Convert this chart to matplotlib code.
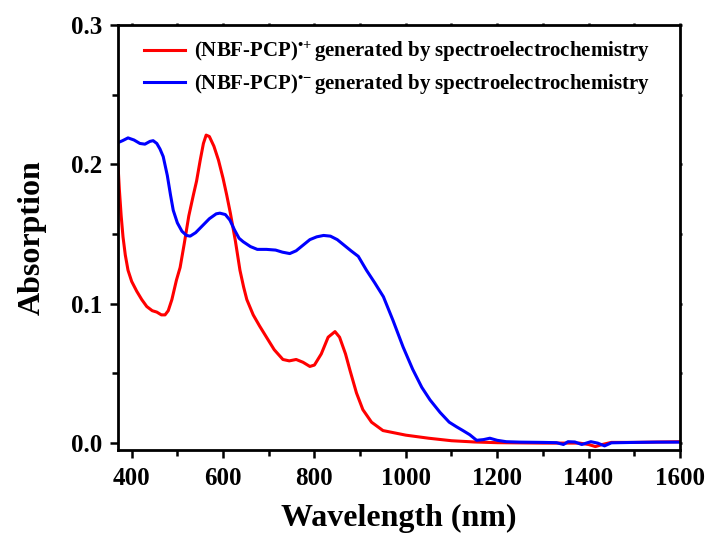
import matplotlib
matplotlib.use("Agg")
import matplotlib.pyplot as plt
from matplotlib.ticker import MultipleLocator

plt.rcParams['font.family'] = ['Liberation Serif', 'DejaVu Serif']
plt.rcParams['font.weight'] = 'bold'
plt.rcParams['mathtext.fontset'] = 'custom'
plt.rcParams['mathtext.rm'] = 'Liberation Serif:bold'
plt.rcParams['mathtext.bf'] = 'Liberation Serif:bold'
plt.rcParams['mathtext.it'] = 'Liberation Serif:bold'

# Cation radical (red)
wl_cat = [370, 373, 377, 381, 386, 392, 400, 411, 422, 433, 445, 455, 465, 473, 480, 488,
          498, 506, 515, 525, 535, 542, 550, 557, 563, 570, 580, 590, 600, 608, 616,
          627, 637, 645, 652, 666, 680, 695, 712, 731, 745, 760, 775, 790, 800, 815,
          830, 845, 855, 868, 878, 892, 906, 925, 950, 1000, 1050, 1100, 1150, 1200,
          1300, 1380, 1400, 1415, 1430, 1450, 1500, 1600]
abs_cat = [0.200, 0.182, 0.163, 0.148, 0.135, 0.124, 0.116, 0.109, 0.103, 0.098, 0.095, 0.094,
           0.092, 0.092, 0.095, 0.103, 0.117, 0.126, 0.143, 0.163, 0.178, 0.188, 0.203,
           0.215, 0.221, 0.220, 0.213, 0.203, 0.190, 0.178, 0.165, 0.145, 0.124, 0.112,
           0.103, 0.092, 0.084, 0.076, 0.067, 0.060, 0.059, 0.060, 0.058, 0.055, 0.056,
           0.064, 0.076, 0.080, 0.076, 0.064, 0.052, 0.036, 0.024, 0.015, 0.009, 0.0057,
           0.0035, 0.0017, 0.0008, 0.0003, 0.0, 0.0, -0.001, -0.0025, -0.001, 0.0005,
           0.0005, 0.001]

# Anion radical (blue)
wl_an = [370, 380, 392, 405, 418, 429, 440, 447, 455, 462, 469, 478, 485, 491, 500, 510,
         520, 528, 540, 555, 570, 585, 593, 605, 615, 625, 635, 644, 660, 675, 695, 715,
         730, 746, 760, 775, 790, 805, 820, 835, 850, 865, 880, 896, 914, 932, 951, 972,
         994, 1015, 1035, 1053, 1075, 1095, 1111, 1125, 1140, 1155, 1170, 1184, 1200,
         1220, 1250, 1300, 1330, 1345, 1355, 1370, 1385, 1395, 1405, 1420, 1435, 1450,
         1500, 1550, 1600]
abs_an = [0.2156, 0.217, 0.219, 0.2175, 0.215, 0.2145, 0.2165, 0.217, 0.215, 0.211, 0.2056,
          0.192, 0.178, 0.167, 0.158, 0.152, 0.149, 0.1485, 0.151, 0.156, 0.161, 0.1645,
          0.165, 0.164, 0.160, 0.153, 0.147, 0.1445, 0.141, 0.139, 0.139, 0.1385, 0.137,
          0.136, 0.138, 0.142, 0.146, 0.148, 0.149, 0.1485, 0.146, 0.142, 0.138, 0.134,
          0.124, 0.115, 0.105, 0.088, 0.069, 0.053, 0.040, 0.031, 0.022, 0.015, 0.0117,
          0.009, 0.006, 0.002, 0.0025, 0.0035, 0.002, 0.001, 0.0007, 0.0005, 0.0003,
          -0.001, 0.001, 0.0008, -0.001, 0.0, 0.001, 0.0, -0.002, 0.0002, 0.0005, 0.0007,
          0.0007]

labels = ['(NBF-PCP)$^{\u2022\\!+}$generated by spectroelectrochemistry',
          '(NBF-PCP)$^{\u2022\\!\u2212}$generated by spectroelectrochemistry']

fig = plt.figure(figsize=(7.09, 5.39), dpi=100)
ax = fig.add_axes([0.1664, 0.165, 0.7926, 0.7886])
ax.plot(wl_cat, abs_cat, color='#ff0000', lw=2.2, label=labels[0])
ax.plot(wl_an, abs_an, color='#0000ff', lw=2.2, label=labels[1])

ax.set_xlim(370, 1600)
ax.set_ylim(-0.005, 0.3)
ax.xaxis.set_major_locator(MultipleLocator(200))
ax.xaxis.set_minor_locator(MultipleLocator(100))
ax.yaxis.set_major_locator(MultipleLocator(0.1))
ax.yaxis.set_minor_locator(MultipleLocator(0.05))
ax.yaxis.set_major_formatter(matplotlib.ticker.FormatStrFormatter('%.1f'))
for s in ax.spines.values():
    s.set_linewidth(2)
ax.tick_params(which='both', direction='out', width=1.8, labelsize=18, pad=5)
ax.tick_params(which='major', length=6)
ax.tick_params(which='minor', length=4)
ax.tick_params(which='both', top=True, right=True)
ax.tick_params(axis='x', which='both', top=True)
ax.tick_params(axis='x', which='major', pad=6)
# tiny ticks on the top and right spines
ax.xaxis.set_tick_params(which='both', top=True)
for t in ax.xaxis.get_major_ticks() + ax.xaxis.get_minor_ticks():
    t.tick2line.set_markersize(1.5)
for t in ax.yaxis.get_major_ticks() + ax.yaxis.get_minor_ticks():
    t.tick2line.set_markersize(1.5)
for lab in ax.get_xticklabels() + ax.get_yticklabels():
    lab.set_fontweight('bold')

ax.set_xlabel('Wavelength (nm)', fontsize=23, fontweight='bold', labelpad=10)
ax.set_ylabel('Absorption', fontsize=23, fontweight='bold', labelpad=18)

leg = ax.legend(loc='upper left', frameon=False, fontsize=15, handlelength=2.0,
                handletextpad=0.4, borderaxespad=0.3, labelspacing=0.4,
                bbox_to_anchor=(0.02, 1.0))
for t in leg.get_texts():
    t.set_fontweight('bold')

fig.savefig('out.png', dpi=100)
